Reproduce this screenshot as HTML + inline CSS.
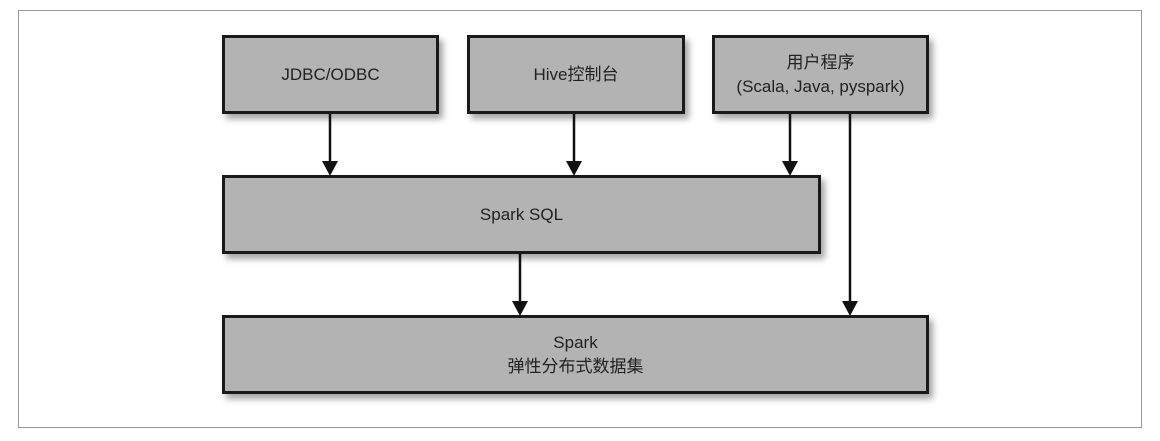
<!DOCTYPE html>
<html><head><style>
body{margin:0;width:1160px;height:441px;background:#fff;position:relative;overflow:hidden;font-family:"Liberation Sans","Noto Sans CJK SC",sans-serif;}
.frame{position:absolute;left:18px;top:10px;width:1122px;height:416px;border:1.5px solid #999;}
.b{position:absolute;background:#b3b3b3;border:3px solid #1a1a1a;box-sizing:border-box;box-shadow:4px 5px 6px rgba(0,0,0,0.35);display:flex;align-items:center;justify-content:center;text-align:center;font-size:17px;color:#222;line-height:24px;}
svg{position:absolute;left:0;top:0;}
</style></head><body>
<div class="frame"></div>
<div class="b" style="left:222px;top:35px;width:217px;height:79px;">JDBC/ODBC</div>
<div class="b" style="left:467px;top:35px;width:218px;height:79px;">Hive控制台</div>
<div class="b" style="left:712px;top:35px;width:217px;height:79px;">用户程序<br>(Scala, Java, pyspark)</div>
<div class="b" style="left:222px;top:175px;width:599px;height:79px;">Spark SQL</div>
<div class="b" style="left:222px;top:315px;width:707px;height:79px;">Spark<br>弹性分布式数据集</div>
<svg width="1160" height="441">
<g stroke="#111" stroke-width="2.5">
<line x1="330" y1="114" x2="330" y2="162"/>
<line x1="574" y1="114" x2="574" y2="162"/>
<line x1="790" y1="114" x2="790" y2="162"/>
<line x1="850" y1="114" x2="850" y2="302"/>
<line x1="520" y1="254" x2="520" y2="302"/>
</g>
<g fill="#111">
<polygon points="322,161 338,161 330,176"/>
<polygon points="566,161 582,161 574,176"/>
<polygon points="782,161 798,161 790,176"/>
<polygon points="842,301 858,301 850,316"/>
<polygon points="512,301 528,301 520,316"/>
</g>
</svg>
</body></html>
